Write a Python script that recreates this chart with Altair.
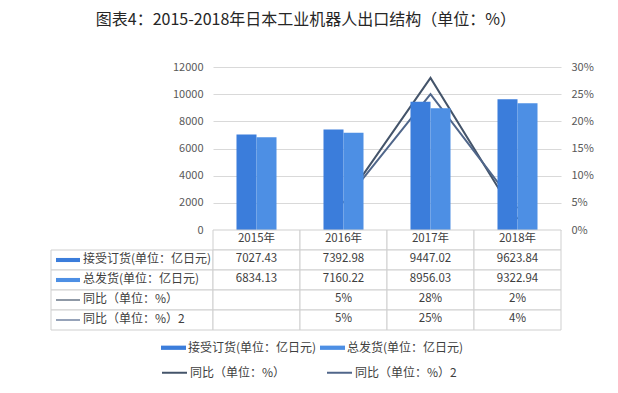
import altair as alt
import pandas as pd

FONT = "Noto Sans CJK SC"

# ---- data ----
years = ["2015年", "2016年", "2017年", "2018年"]
orders = [7027.43, 7392.98, 9447.02, 9623.84]          # 接受订货 (亿日元)
shipments = [6834.13, 7160.22, 8956.03, 9322.94]       # 总发货 (亿日元)
yoy1 = [None, 5, 28, 2]                                 # 同比 (%)
yoy2 = [None, 5, 25, 4]                                 # 同比 2 (%)
series = ["接受订货(单位：亿日元)", "总发货(单位：亿日元)", "同比（单位：%）", "同比（单位：%）2"]
colors = ["#3B7DDB", "#4D8FE4", "#44546A", "#50668A"]
left_ticks = [0, 2000, 4000, 6000, 8000, 10000, 12000]
right_ticks = [0, 0.05, 0.10, 0.15, 0.20, 0.25, 0.30]
title_text = "图表4：2015-2018年日本工业机器人出口结构（单位：%）"

BAR_PATH = "M-1,-0.17H1V0.17H-1Z"
LINE_PATH = "M-1,-0.05H1V0.05H-1Z"

# ---- tables ----
bar_rows = []
for i, yr in enumerate(years):
    bar_rows.append({"year": yr, "series": series[0], "value": orders[i]})
    bar_rows.append({"year": yr, "series": series[1], "value": shipments[i]})
bars_df = pd.DataFrame(bar_rows)

line_rows = []
for i, yr in enumerate(years):
    for s, arr in ((series[2], yoy1), (series[3], yoy2)):
        if arr[i] is not None:
            line_rows.append({"year": yr, "series": s, "pct": arr[i] / 100})
lines_df = pd.DataFrame(line_rows)

row_keys = ["hdr"] + series
cell_rows = []
for i, yr in enumerate(years):
    cell_rows.append({"col": yr, "row": "hdr", "text": yr})
    cell_rows.append({"col": yr, "row": series[0], "text": f"{orders[i]:.2f}"})
    cell_rows.append({"col": yr, "row": series[1], "text": f"{shipments[i]:.2f}"})
    cell_rows.append({"col": yr, "row": series[2], "text": "" if yoy1[i] is None else f"{yoy1[i]}%"})
    cell_rows.append({"col": yr, "row": series[3], "text": "" if yoy2[i] is None else f"{yoy2[i]}%"})
cells_df = pd.DataFrame(cell_rows)

label_df = pd.DataFrame({
    "row": series,
    "clr": colors,
    "shape": [BAR_PATH, BAR_PATH, LINE_PATH, LINE_PATH],
})

# ---- top panel: bars + lines ----
common_legend = dict(orient="none", direction="horizontal", columns=2, title=None, symbolSize=625,
                     labelFont=FONT, labelFontSize=12, labelColor="#404040", labelLimit=400,
                     labelOffset=2, rowPadding=0, padding=0)
bar_legend = alt.Legend(legendX=-52, legendY=268, symbolType=BAR_PATH, symbolStrokeWidth=0,
                        columnPadding=3, **common_legend)
line_legend = alt.Legend(legendX=-52, legendY=292, symbolType="stroke", symbolStrokeWidth=2,
                         columnPadding=37, **common_legend)

x_top = alt.X("year:N", scale=alt.Scale(domain=years, paddingInner=0.54, paddingOuter=0.27), axis=None)

lines = alt.Chart(lines_df).mark_line(strokeWidth=2).encode(
    x=x_top,
    y=alt.Y("pct:Q", scale=alt.Scale(domain=[0, 0.3], nice=False),
            axis=alt.Axis(orient="right", values=right_ticks, format=".0%", grid=False, domain=False,
                          ticks=False, labelPadding=10, labelFontSize=11, labelColor="#595959",
                          labelFont=FONT, title=None)),
    stroke=alt.Stroke("series:N", scale=alt.Scale(domain=series[2:], range=colors[2:]), legend=line_legend),
)

bars = alt.Chart(bars_df).mark_bar().encode(
    x=x_top,
    xOffset=alt.XOffset("series:N", scale=alt.Scale(domain=series[:2], paddingInner=0, paddingOuter=0)),
    y=alt.Y("value:Q", scale=alt.Scale(domain=[0, 12000], nice=False),
            axis=alt.Axis(orient="left", values=left_ticks, format="d", grid=True, gridColor="#D9D9D9",
                          domain=False, ticks=False, labelPadding=10, labelFontSize=11,
                          labelColor="#595959", labelFont=FONT, title=None)),
    fill=alt.Fill("series:N", scale=alt.Scale(domain=series[:2], range=colors[:2]), legend=bar_legend),
)

top = alt.layer(lines, bars).resolve_scale(y="independent").properties(width=348, height=163)

# ---- bottom panel: data table ----
x_tab = alt.X("col:N", scale=alt.Scale(domain=years, paddingInner=0, paddingOuter=0), axis=None)
y_tab = alt.Y("row:N", scale=alt.Scale(domain=row_keys, paddingInner=0, paddingOuter=0), axis=None)

cell_rects = alt.Chart(cells_df).mark_rect(fill="white", stroke="#CFCFCF", strokeWidth=1).encode(x=x_tab, y=y_tab)
label_rects = alt.Chart(label_df).mark_rect(fill="white", stroke="#CFCFCF", strokeWidth=1).encode(
    x=alt.value(-162), x2=alt.value(0), y=y_tab)
cell_text = alt.Chart(cells_df).mark_text(font=FONT, fontSize=11.5, color="#404040", dy=-1).encode(
    x=x_tab, y=y_tab, text="text:N")
label_text = alt.Chart(label_df).mark_text(font=FONT, fontSize=12, color="#404040", align="left", dy=-1).encode(
    x=alt.value(-130), y=y_tab, text="row:N")
label_sym = alt.Chart(label_df).mark_point(filled=True, size=576, opacity=1, strokeWidth=0).encode(
    x=alt.value(-145), y=y_tab,
    fill=alt.Fill("clr:N", scale=None),
    shape=alt.Shape("shape:N", scale=None),
)

table = alt.layer(label_rects, cell_rects, cell_text, label_text, label_sym).properties(width=348, height=100)

chart = alt.vconcat(top, table, spacing=0, bounds="flush").resolve_scale(
    x="independent", y="independent", fill="independent"
).properties(
    title=alt.TitleParams(title_text, font=FONT, fontSize=16, fontWeight="normal", color="#262626",
                          anchor="middle", dx=-16, offset=33, limit=0),
    padding={"left": 42, "top": 4, "right": 5, "bottom": 5},
).configure_view(stroke=None)

chart.save("out.html", embed_options={"renderer": "svg", "actions": False})
